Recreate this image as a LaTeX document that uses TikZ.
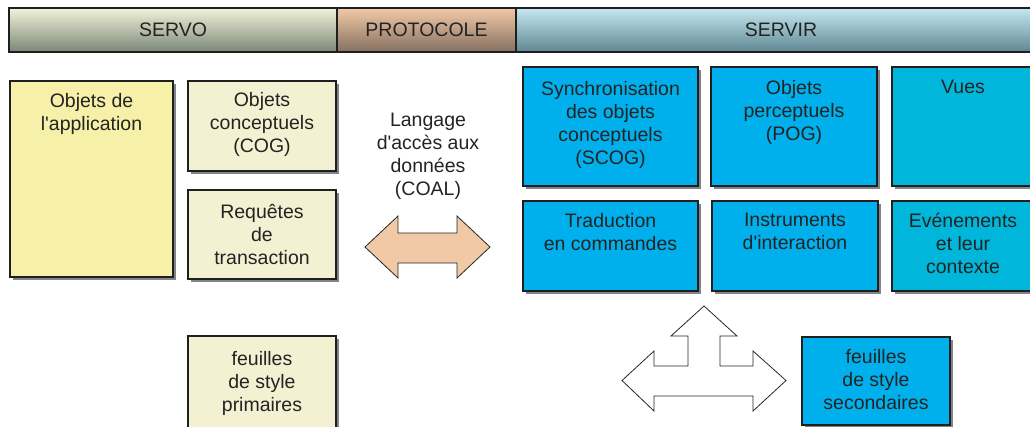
\documentclass[tikz,border=0pt]{standalone}
\usepackage{fontspec}
\setmainfont{Liberation Sans}[Ligatures=TeXOff]
\usetikzlibrary{shadows}
\definecolor{ink}{RGB}{35,35,35}
\definecolor{shadowgray}{RGB}{128,133,140}
\definecolor{yellowbox}{RGB}{246,240,168}
\definecolor{creambox}{RGB}{243,241,210}
\definecolor{bluebox}{RGB}{0,176,236}
\definecolor{tealbox}{RGB}{0,182,218}
\definecolor{orangearrow}{RGB}{241,201,166}
\definecolor{servotop}{RGB}{243,243,216}
\definecolor{servomid}{RGB}{212,214,192}
\definecolor{servobot}{RGB}{122,134,120}
\definecolor{prottop}{RGB}{243,201,166}
\definecolor{protmid}{RGB}{210,174,144}
\definecolor{protbot}{RGB}{132,112,98}
\definecolor{servirtop}{RGB}{196,232,242}
\definecolor{servirmid}{RGB}{166,205,216}
\definecolor{servirbot}{RGB}{95,135,145}
\tikzset{
  basefont/.style={font=\fontsize{19.5}{23}\selectfont, text=ink},
  hdr/.style={basefont, draw=black!88, line width=2pt, inner sep=0pt, minimum height=44pt},
  box/.style={draw=black!88, line width=2pt, inner sep=0pt,
    drop shadow={shadow xshift=3pt, shadow yshift=-3pt, fill=shadowgray, opacity=1}},
  txt/.style={basefont, align=center, inner sep=0pt, anchor=north},
  shapeline/.style={draw=black!85, line width=0.8pt, line join=miter}
}
\begin{document}
\begin{tikzpicture}[x=1pt,y=-1pt]
\useasboundingbox (0,0) rectangle (1030,426);
\clip (0,0) rectangle (1030,426);
% header bar
\node[hdr, top color=servotop, middle color=servomid, bottom color=servobot, minimum width=328pt] (servo) at (173,30) {SERVO};
\node[hdr, top color=prottop, middle color=protmid, bottom color=protbot, minimum width=179pt] (protocole) at (426.5,30) {PROTOCOLE};
\node[hdr, top color=servirtop, middle color=servirmid, bottom color=servirbot, minimum width=530pt] (servir) at (781,30) {SERVIR};

% SERVO boxes
\node[box, fill=yellowbox, minimum width=163pt, minimum height=196pt] (app) at (91.5,179) {};
\node[txt] (app-t) at ([yshift=-13pt]app.north) {Objets de\\l'application};
\node[box, fill=creambox, minimum width=148pt, minimum height=90pt] (cog) at (262,126) {};
\node[txt] (cog-t) at ([yshift=-12pt]cog.north) {Objets\\conceptuels\\(COG)};
\node[box, fill=creambox, minimum width=148pt, minimum height=89pt] (req) at (262,234.5) {};
\node[txt] (req-t) at ([yshift=-15pt]req.north) {Requêtes\\de\\transaction};
\node[box, fill=creambox, minimum width=148pt, minimum height=104pt] (fp) at (262,388) {};
\node[txt] (fp-t) at ([yshift=-16pt]fp.north) {feuilles\\de style\\primaires};

% protocol
\node[txt] (coal) at (428,113) {Langage\\d'accès aux\\données\\(COAL)};
\filldraw[shapeline, fill=orangearrow] (365,247) -- (398,216) -- (398,233) -- (457,233) -- (457,216) -- (490,247) -- (457,278) -- (457,263) -- (398,263) -- (398,278) -- cycle;

% SERVIR boxes
\node[box, fill=bluebox, minimum width=175pt, minimum height=119pt] (scog) at (610.5,126.5) {};
\node[txt] (scog-t) at ([yshift=-15pt]scog.north) {Synchronisation\\des objets\\conceptuels\\(SCOG)};
\node[box, fill=bluebox, minimum width=166pt, minimum height=119pt] (pog) at (794,126.5) {};
\node[txt] (pog-t) at ([yshift=-14pt]pog.north) {Objets\\perceptuels\\(POG)};
\node[box, fill=tealbox, minimum width=142pt, minimum height=119pt] (vues) at (963,126.5) {};
\node[txt] (vues-t) at ([yshift=-14pt]vues.north) {Vues};
\node[box, fill=bluebox, minimum width=175pt, minimum height=90pt] (trad) at (610.5,246) {};
\node[txt] (trad-t) at ([yshift=-13pt]trad.north) {Traduction\\en commandes};
\node[box, fill=bluebox, minimum width=166pt, minimum height=90pt] (instr) at (795,246) {};
\node[txt] (instr-t) at ([yshift=-13pt]instr.north) {Instruments\\d'interaction};
\node[box, fill=tealbox, minimum width=142pt, minimum height=90pt] (evt) at (963,246) {};
\node[txt] (evt-t) at ([yshift=-13pt]evt.north) {Evénements\\et leur\\contexte};
\node[box, fill=bluebox, minimum width=148pt, minimum height=88pt] (fs) at (876,381) {};
\node[txt] (fs-t) at ([yshift=-13pt]fs.north) {feuilles\\de style\\secondaires};

% three-way arrow
\filldraw[shapeline, fill=white] (704,306) -- (737,336) -- (720,336) -- (720,366) -- (753,366) -- (753,351) -- (786,380.5) -- (753,411) -- (753,396) -- (654,396) -- (654,411) -- (622,380.5) -- (654,351) -- (654,366) -- (688,366) -- (688,336) -- (671,336) -- cycle;
\end{tikzpicture}
\end{document}
